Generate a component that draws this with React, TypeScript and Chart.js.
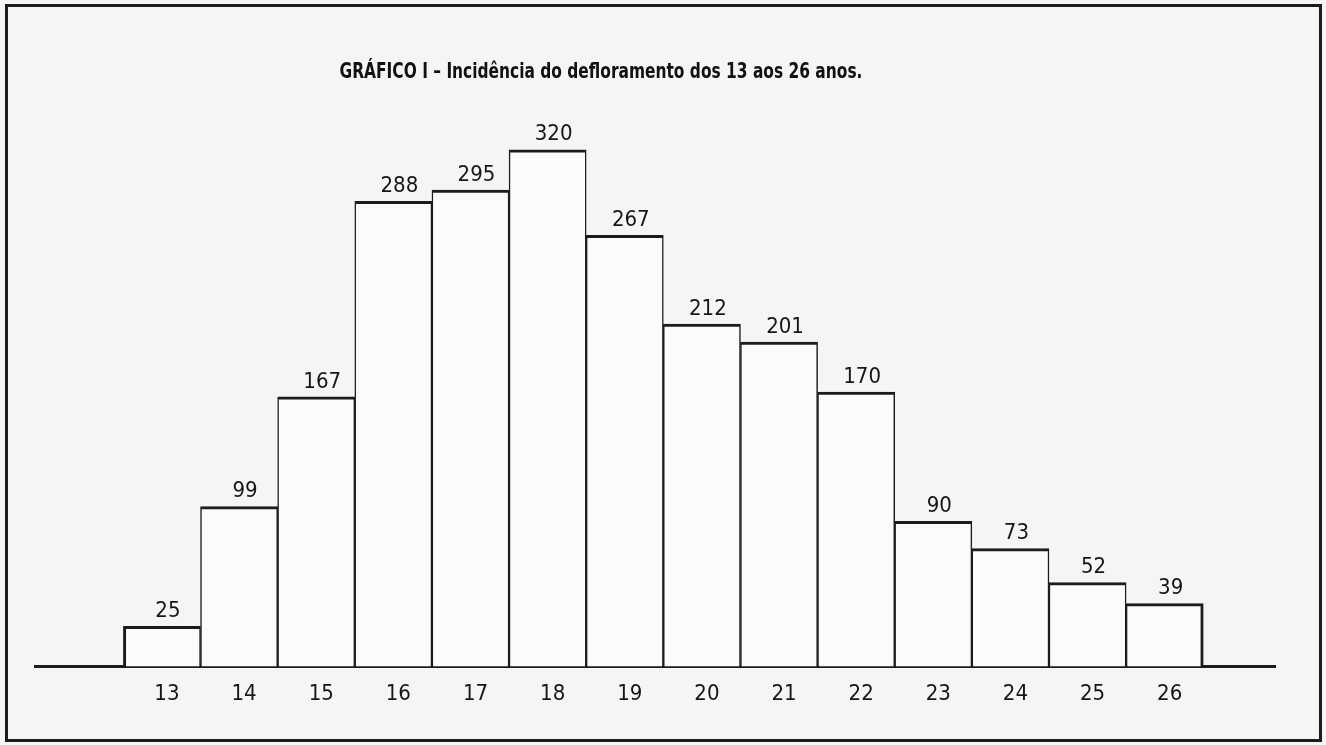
import React, { useEffect, useRef } from "react";
import { Chart, registerables } from "chart.js";

Chart.register(...registerables);

const ages: number[] = [13, 14, 15, 16, 17, 18, 19, 20, 21, 22, 23, 24, 25, 26];
const counts: number[] = [25, 99, 167, 288, 295, 320, 267, 212, 201, 170, 90, 73, 52, 39];
const titleText = "GRÁFICO I – Incidência do defloramento dos 13 aos 26 anos.";

const FONT = "'Liberation Sans Narrow', 'DejaVu Sans Condensed', 'Roboto', Arial, sans-serif";

const valueLabels = {
  id: "valueLabels",
  afterDatasetsDraw(chart: any) {
    const ctx = chart.ctx;
    const meta = chart.getDatasetMeta(0);
    ctx.save();
    ctx.fillStyle = "#161616";
    ctx.font = `22px ${FONT}`;
    ctx.textAlign = "center";
    ctx.textBaseline = "bottom";
    meta.data.forEach((bar: any, i: number) => {
      ctx.fillText(String(counts[i]), bar.x + 6, bar.y - 4);
    });
    ctx.restore();
  },
};

export default function App() {
  const ref = useRef<HTMLCanvasElement | null>(null);
  useEffect(() => {
    if (!ref.current) return;
    const chart = new Chart(ref.current, {
      type: "bar",
      data: {
        datasets: [
          {
            data: ages.map((a, i) => ({ x: a, y: counts[i] })),
            backgroundColor: "#fbfbf9",
            borderColor: "#1c1c1c",
            borderSkipped: "bottom",
            borderWidth: (c: any) => ({
              top: 3,
              left: c.dataIndex === 0 ? 3 : 1.5,
              right: c.dataIndex === ages.length - 1 ? 3 : 1.5,
              bottom: 0,
            }),
            barPercentage: 1,
            categoryPercentage: 1,
          } as any,
        ],
      },
      options: {
        animation: false,
        responsive: true,
        maintainAspectRatio: false,
        layout: { padding: { left: 35, right: 51, top: 111, bottom: 24 } },
        plugins: {
          legend: { display: false },
          tooltip: { enabled: false },
          title: { display: false },
        },
        scales: {
          x: {
            type: "linear",
            offset: false,
            min: 11.354,
            max: 27.43,
            grid: { display: false, drawTicks: false, offset: false },
            border: { display: true, color: "#1c1c1c", width: 3 },
            ticks: {
              stepSize: 1,
              autoSkip: false,
              maxRotation: 0,
              padding: 14,
              labelOffset: 5,
              color: "#161616",
              font: { family: FONT, size: 22 },
              callback: (v: any) => {
                const n = Number(v);
                return Number.isInteger(n) && n >= 13 && n <= 26 ? String(n) : "";
              },
            },
          },
          y: {
            display: false,
            min: 0,
            max: 344,
          },
        },
      },
      plugins: [valueLabels],
    });
    return () => chart.destroy();
  }, []);

  return (
    <div
      style={{
        position: "absolute",
        left: 0,
        top: 0,
        width: 1326,
        height: 745,
        background: "#f5f5f3",
        overflow: "hidden",
      }}
    >
      <div
        style={{
          position: "absolute",
          left: 5,
          top: 4,
          width: 1317,
          height: 738,
          border: "3px solid #1c1c1c",
          boxSizing: "border-box",
          pointerEvents: "none",
        }}
      />
      <div style={{ position: "absolute", left: 0, top: 0, width: 1326, height: 745 }}>
        <canvas ref={ref} />
      </div>
      <div
        style={{
          position: "absolute",
          left: 601,
          top: 58,
          transform: "translateX(-50%) scaleX(0.78)",
          whiteSpace: "nowrap",
          fontFamily: FONT,
          fontSize: 22,
          lineHeight: "26px",
          color: "#111",
        }}
      >
        <span style={{ fontWeight: 900 }}>GRÁFICO I</span>
        <span style={{ fontWeight: 700 }}> – Incidência do defloramento dos 13 aos 26 anos.</span>
      </div>
    </div>
  );
}
